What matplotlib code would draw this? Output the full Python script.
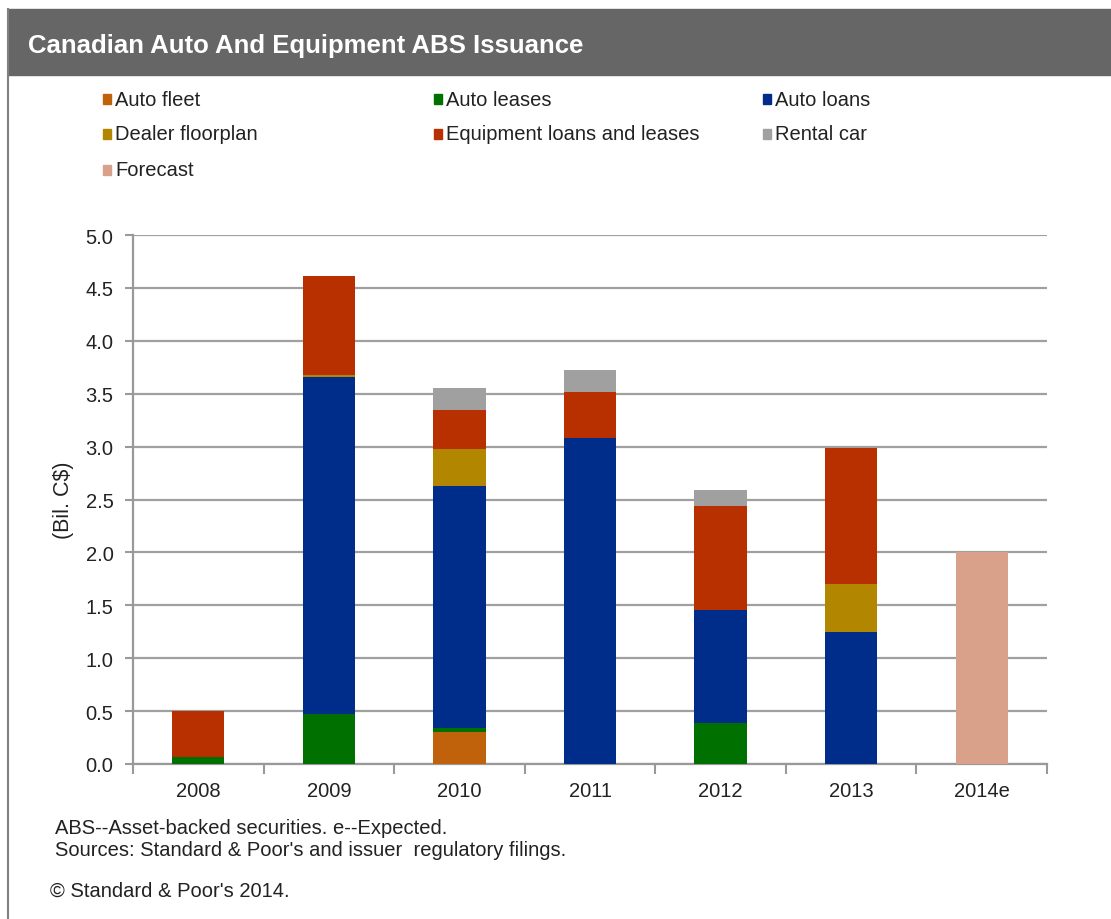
import numpy as np
import matplotlib.pyplot as plt
from matplotlib.patches import Rectangle
from matplotlib.lines import Line2D

plt.rcParams['font.family'] = ['Liberation Sans', 'DejaVu Sans']

# Data (Bil. C$)
years = ['2008', '2009', '2010', '2011', '2012', '2013', '2014e']
auto_fleet = [0.0, 0.0, 0.30, 0.0, 0.0, 0.0, 0.0]
auto_leases = [0.07, 0.47, 0.04, 0.0, 0.39, 0.0, 0.0]
auto_loans = [0.0, 3.19, 2.29, 3.08, 1.07, 1.25, 0.0]
dealer_floorplan = [0.0, 0.02, 0.35, 0.0, 0.0, 0.45, 0.0]
equipment = [0.43, 0.93, 0.37, 0.44, 0.98, 1.29, 0.0]
rental_car = [0.0, 0.0, 0.20, 0.20, 0.15, 0.0, 0.0]
forecast = [0.0, 0.0, 0.0, 0.0, 0.0, 0.0, 2.0]

series = [
    ('Auto fleet', auto_fleet, '#C0620C'),
    ('Auto leases', auto_leases, '#007000'),
    ('Auto loans', auto_loans, '#002D8A'),
    ('Dealer floorplan', dealer_floorplan, '#B38600'),
    ('Equipment loans and leases', equipment, '#B83000'),
    ('Rental car', rental_car, '#A0A0A0'),
    ('Forecast', forecast, '#D9A08A'),
]

W, H = 1111, 920
fig = plt.figure(figsize=(W / 100, H / 100), dpi=100)

# title bar
fig.patches.append(Rectangle((8 / W, 1 - 76 / H), 1, 66 / H,
                             transform=fig.transFigure, color='#666666', zorder=0))
fig.text(28 / W, 1 - 46 / H, 'Canadian Auto And Equipment ABS Issuance',
         color='white', fontsize=18.5, fontweight='bold', va='center')
fig.lines.append(Line2D([8 / W, 8 / W], [0, 1 - 10 / H],
                        transform=fig.transFigure, color='#808080', lw=1.5))

ax = fig.add_axes([133 / W, 155 / H, 914 / W, 529 / H])
x = np.arange(len(years))
bottom = np.zeros(len(years))
for name, vals, col in series:
    ax.bar(x, vals, 0.4, bottom=bottom, color=col, label=name, zorder=3)
    bottom += np.array(vals)

ax.set_xlim(-0.5, len(years) - 0.5)
ax.set_ylim(0, 5)
ax.set_yticks(np.arange(0, 5.01, 0.5))
ax.set_yticklabels([f'{v:.1f}' for v in np.arange(0, 5.01, 0.5)])
ax.set_xticks(x)
ax.set_xticklabels(years)
ax.set_xticks(np.arange(-0.5, len(years), 1), minor=True)
ax.tick_params(axis='x', which='major', length=0, pad=12, labelsize=14.5, colors='#222222')
ax.tick_params(axis='x', which='minor', length=7, width=1.5, color='#999999', direction='out')
ax.tick_params(axis='y', length=6, width=1.5, color='#999999', labelsize=14.5,
               labelcolor='#222222', pad=8)
ax.grid(axis='y', color='#A0A0A0', lw=1.6, zorder=0)
for s in ['top', 'right']:
    ax.spines[s].set_visible(False)
for s in ['left', 'bottom']:
    ax.spines[s].set_color('#999999')
    ax.spines[s].set_linewidth(1.6)
ax.set_ylabel('(Bil. C$)', fontsize=15.5, labelpad=8, color='#222222')

# legend, three per row
col_x = [103, 434, 763]
row_y = [100, 135, 171]
for i, (name, vals, col) in enumerate(series):
    cx = col_x[i % 3]
    cy = row_y[i // 3]
    fig.patches.append(Rectangle((cx / W, 1 - (cy + 5) / H), 8 / W, 10 / H,
                                 transform=fig.transFigure, color=col))
    fig.text((cx + 12) / W, 1 - cy / H, name, fontsize=14.5, va='center', color='#222222')

fig.text(55 / W, 1 - 829 / H, 'ABS--Asset-backed securities. e--Expected.',
         fontsize=14.5, va='center', color='#222222')
fig.text(55 / W, 1 - 851 / H, "Sources: Standard & Poor's and issuer  regulatory filings.",
         fontsize=14.5, va='center', color='#222222')
fig.text(50 / W, 1 - 891 / H, "\u00a9 Standard & Poor's 2014.",
         fontsize=14.5, va='center', color='#222222')

fig.savefig('out.png', dpi=100)
